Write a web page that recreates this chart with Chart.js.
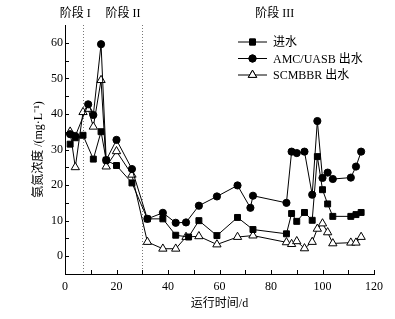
<!DOCTYPE html>
<html>
<head>
<meta charset="utf-8">
<script src="https://cdn.jsdelivr.net/npm/chart.js@4.4.1/dist/chart.umd.min.js"></script>
<style>
  html, body { margin: 0; padding: 0; background: #fff; }
</style>
</head>
<body>
<canvas id="chart" width="395" height="319"></canvas>
<script>
// operating days and ammonia concentrations (mg/L)
const influentDays = [2, 4, 7, 11, 14, 16, 20, 26, 32, 38, 43, 48, 52, 59, 67, 73, 86, 88, 90, 93, 96, 98, 100, 102, 104, 111, 113, 115]
const influent = [31.5, 33.3, 34, 27.3, 35, 27, 25.5, 20.6, 10.5, 10.5, 5.9, 5.4, 10, 5.8, 10.9, 7.5, 6.3, 12, 9.8, 12.3, 10.1, 28, 18.7, 14.7, 11.2, 11.2, 11.7, 12.3]

const uasbDays = [2, 4, 9, 11, 14, 16, 20, 26, 32, 38, 43, 47, 52, 59, 67, 72, 73, 86, 88, 90, 93, 96, 98, 100, 102, 104, 111, 113, 115]
const uasb = [34.3, 33.8, 42.7, 39.7, 59.6, 27, 32.7, 24.5, 10.5, 12.2, 9.4, 9.5, 14.2, 16.8, 19.9, 13.6, 17, 15, 29.4, 29, 29.4, 17.3, 38, 22, 23.5, 21.7, 22.1, 25.2, 29.4]

const mbbrDays = [2, 4, 7, 9, 11, 14, 16, 20, 26, 32, 38, 43, 47, 52, 59, 67, 73, 86, 88, 90, 93, 96, 98, 100, 102, 104, 111, 113, 115]
const mbbr = [35, 25, 40.5, 41.4, 36.4, 49.5, 25.2, 29.5, 22.9, 4, 2.1, 2.1, 5.4, 5.6, 3.3, 5.4, 5.8, 3.9, 3.4, 4.2, 2.2, 4, 7.7, 9.2, 6.7, 3.6, 3.8, 3.8, 5.4]

const seriesNames = ['进水', 'AMC/UASB 出水', 'SCMBBR 出水']

// stage boundaries (days) and stage captions
const stageBounds = [7, 30]
const stageNames = ['阶段 I', '阶段 II', '阶段 III']
const stageLabelDays = [4, 22.5, 81.5]

const serif = "'Liberation Serif', 'Noto Sans CJK SC', serif"

const pts = (xs, ys) => xs.map((d, i) => ({ x: d, y: ys[i] }))

// inward tick marks, dotted stage lines, stage captions and the legend
const decor = {
  id: 'decor',
  beforeDatasetsDraw(chart) {
    const { ctx, chartArea: a, scales: { x } } = chart
    ctx.save()
    ctx.strokeStyle = '#777'
    ctx.lineWidth = 1
    ctx.setLineDash([1, 2])
    stageBounds.forEach((d) => {
      const px = Math.round(x.getPixelForValue(d)) + 0.5
      ctx.beginPath()
      ctx.moveTo(px, a.top)
      ctx.lineTo(px, a.bottom)
      ctx.stroke()
    })
    ctx.restore()
  },
  afterDraw(chart) {
    const { ctx, chartArea: a, scales: { x, y } } = chart
    ctx.save()
    ctx.strokeStyle = '#000'
    ctx.lineWidth = 1
    ctx.beginPath()
    x.ticks.forEach((t) => {
      if (t.value <= x.min) return
      const px = Math.round(x.getPixelForValue(t.value)) + 0.5
      ctx.moveTo(px, a.bottom)
      ctx.lineTo(px, a.bottom - 4)
    })
    y.ticks.forEach((t) => {
      if (t.value <= y.min || t.value >= y.max) return
      const py = Math.round(y.getPixelForValue(t.value)) + 0.5
      ctx.moveTo(a.left, py)
      ctx.lineTo(a.left + 4, py)
    })
    ctx.stroke()

    ctx.fillStyle = '#000'
    ctx.font = '12px ' + serif
    ctx.textAlign = 'center'
    ctx.textBaseline = 'middle'
    stageNames.forEach((s, i) => {
      ctx.fillText(s, x.getPixelForValue(stageLabelDays[i]), 14)
    })

    // legend: short line with the marker in its middle
    const lx = 238, lw = 29, ly0 = 42, step = 16.5
    chart.data.datasets.forEach((ds, i) => {
      const yy = ly0 + i * step
      ctx.beginPath()
      ctx.moveTo(lx, yy)
      ctx.lineTo(lx + lw, yy)
      ctx.strokeStyle = '#000'
      ctx.stroke()
      Chart.helpers.drawPoint(ctx, {
        pointStyle: ds.pointStyle,
        radius: ds.pointRadius,
        rotation: 0,
        borderWidth: 1
      }, lx + lw / 2, yy)
      ctx.fillStyle = ds.pointBackgroundColor
      ctx.strokeStyle = '#000'
      ctx.fill()
      ctx.stroke()
      ctx.fillStyle = '#000'
      ctx.textAlign = 'left'
      ctx.fillText(ds.label, lx + lw + 6, yy + 1)
    })
    ctx.restore()
  }
}

const line = (label, data, style, radius, fill) => ({
  label,
  data,
  borderColor: '#000',
  borderWidth: 1,
  pointStyle: style,
  pointRadius: radius,
  pointBackgroundColor: fill,
  pointBorderColor: '#000',
  pointBorderWidth: 1,
  tension: 0,
  fill: false
})

new Chart(document.getElementById('chart').getContext('2d'), {
  type: 'line',
  data: {
    datasets: [
      line(seriesNames[0], pts(influentDays, influent), 'rect', 4.2, '#000'),
      line(seriesNames[1], pts(uasbDays, uasb), 'circle', 3.6, '#000'),
      line(seriesNames[2], pts(mbbrDays, mbbr), 'triangle', 4.8, '#fff')
    ]
  },
  options: {
    responsive: false,
    animation: false,
    devicePixelRatio: 1,
    layout: { padding: { top: 25, right: 21, left: 0, bottom: 0 } },
    plugins: { legend: { display: false }, tooltip: { enabled: false } },
    scales: {
      x: {
        type: 'linear',
        min: 0,
        max: 120,
        grid: { display: false, drawTicks: false, tickLength: 0 },
        border: { display: true, color: '#000', width: 1 },
        ticks: {
          stepSize: 10,
          padding: 6,
          color: '#000',
          font: { family: serif, size: 12 },
          maxRotation: 0,
          autoSkip: false,
          callback: (v) => (v % 20 === 0 ? v : '')
        },
        title: {
          display: true,
          text: '运行时间/d',
          color: '#000',
          font: { family: serif, size: 12 },
          padding: { top: 0, bottom: 8 }
        },
        afterFit: (s) => { s.height = 45 }
      },
      y: {
        min: -5,
        max: 65,
        grid: { display: false, drawTicks: false, tickLength: 0 },
        border: { display: true, color: '#000', width: 1 },
        ticks: {
          stepSize: 5,
          padding: 2,
          color: '#000',
          font: { family: serif, size: 12 },
          autoSkip: false,
          callback: (v) => (v % 10 === 0 ? v : '')
        },
        title: {
          display: true,
          text: '氨氮浓度 /(mg·L⁻¹)',
          color: '#000',
          font: { family: serif, size: 12 },
          padding: { top: 32, bottom: 0 }
        },
        afterFit: (s) => { s.width = 65 }
      }
    }
  },
  plugins: [decor]
})
</script>
</body>
</html>
